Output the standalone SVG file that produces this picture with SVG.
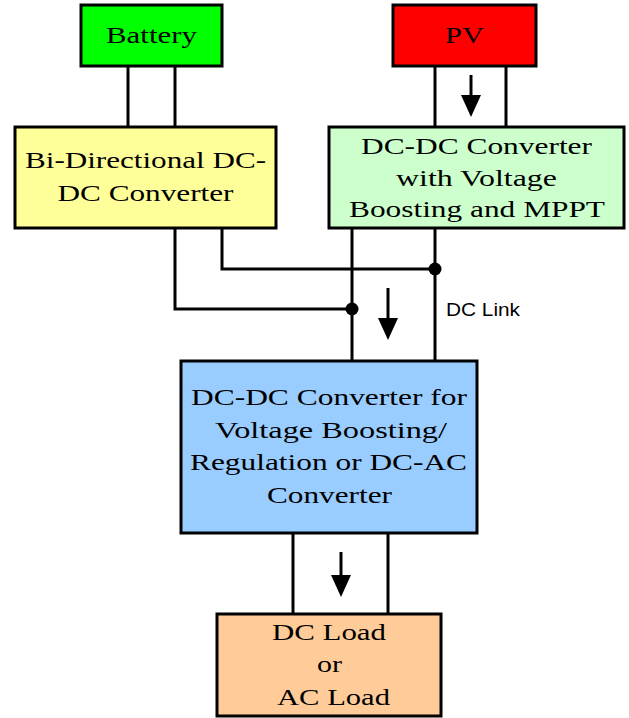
<svg xmlns="http://www.w3.org/2000/svg" width="629" height="718" viewBox="0 0 629 718">
<style>
.box{stroke:#000;stroke-width:3}
.t{font-family:"Liberation Serif","Times New Roman",serif;font-size:24px;fill:#000;text-anchor:middle}
.w{fill:none;stroke:#000;stroke-width:3}
.a{fill:none;stroke:#000;stroke-width:3;marker-end:url(#ah)}
.s{font-family:"Liberation Sans",Arial,sans-serif;font-size:18px;fill:#000}
</style>
<defs>
<marker id="ah" markerUnits="userSpaceOnUse" markerWidth="22" markerHeight="24" refX="0" refY="11" orient="auto" viewBox="0 0 22 24">
<path d="M0,1 L22,11 L0,21 Z" fill="#000"/>
</marker>
</defs>
<rect width="629" height="718" fill="#fff"/>
<g id="connectors">
<line class="w" x1="128" y1="66" x2="128" y2="127"/>
<line class="w" x1="175" y1="66" x2="175" y2="127"/>
<line class="w" x1="435" y1="66" x2="435" y2="127"/>
<line class="w" x1="506" y1="66" x2="506" y2="127"/>
<line class="a" x1="471" y1="75" x2="471" y2="95"/>
<polyline class="w" points="222,228 222,269 435,269"/>
<polyline class="w" points="175,228 175,309 352,309"/>
<line class="w" x1="352" y1="228" x2="352" y2="360"/>
<line class="w" x1="435" y1="228" x2="435" y2="360"/>
<circle cx="435" cy="269" r="6.5" fill="#000"/>
<circle cx="352" cy="309" r="6.5" fill="#000"/>
<line class="a" x1="388" y1="288" x2="388" y2="318"/>
<text class="s" x="446" y="316" textLength="74" lengthAdjust="spacingAndGlyphs">DC Link</text>
<line class="w" x1="293" y1="533" x2="293" y2="614"/>
<line class="w" x1="388" y1="533" x2="388" y2="614"/>
<line class="a" x1="341" y1="552" x2="341" y2="575"/>
</g>
<g id="battery">
<rect class="box" x="81" y="5" width="141" height="61" fill="#00ff00"/>
<text class="t" x="151.5" y="43" textLength="91" lengthAdjust="spacingAndGlyphs">Battery</text>
</g>
<g id="pv">
<rect class="box" x="393" y="5" width="143" height="61" fill="#ff0000"/>
<text class="t" x="464.5" y="43" textLength="39" lengthAdjust="spacingAndGlyphs">PV</text>
</g>
<g id="bidirectional">
<rect class="box" x="15" y="127" width="261" height="101" fill="#ffff99"/>
<text class="t" x="145.5" y="168" textLength="241" lengthAdjust="spacingAndGlyphs">Bi-Directional DC-</text>
<text class="t" x="145.5" y="201" textLength="176" lengthAdjust="spacingAndGlyphs">DC Converter</text>
</g>
<g id="mppt">
<rect class="box" x="329" y="127" width="295" height="101" fill="#ccffcc"/>
<text class="t" x="476.5" y="154" textLength="231" lengthAdjust="spacingAndGlyphs">DC-DC Converter</text>
<text class="t" x="476.5" y="186" textLength="161" lengthAdjust="spacingAndGlyphs">with Voltage</text>
<text class="t" x="477" y="217" textLength="256" lengthAdjust="spacingAndGlyphs">Boosting and MPPT</text>
</g>
<g id="converter">
<rect class="box" x="181" y="361" width="296" height="172" fill="#99ccff"/>
<text class="t" x="329" y="405" textLength="276" lengthAdjust="spacingAndGlyphs">DC-DC Converter for</text>
<text class="t" x="331" y="438" textLength="232" lengthAdjust="spacingAndGlyphs">Voltage Boosting/</text>
<text class="t" x="328.5" y="470" textLength="277" lengthAdjust="spacingAndGlyphs">Regulation or DC-AC</text>
<text class="t" x="329.5" y="503" textLength="125" lengthAdjust="spacingAndGlyphs">Converter</text>
</g>
<g id="load">
<rect class="box" x="217" y="614" width="224" height="102" fill="#ffcc99"/>
<text class="t" x="329" y="640" textLength="114" lengthAdjust="spacingAndGlyphs">DC Load</text>
<text class="t" x="329.5" y="672" textLength="25" lengthAdjust="spacingAndGlyphs">or</text>
<text class="t" x="333.5" y="705" textLength="113" lengthAdjust="spacingAndGlyphs">AC Load</text>
</g>
</svg>
